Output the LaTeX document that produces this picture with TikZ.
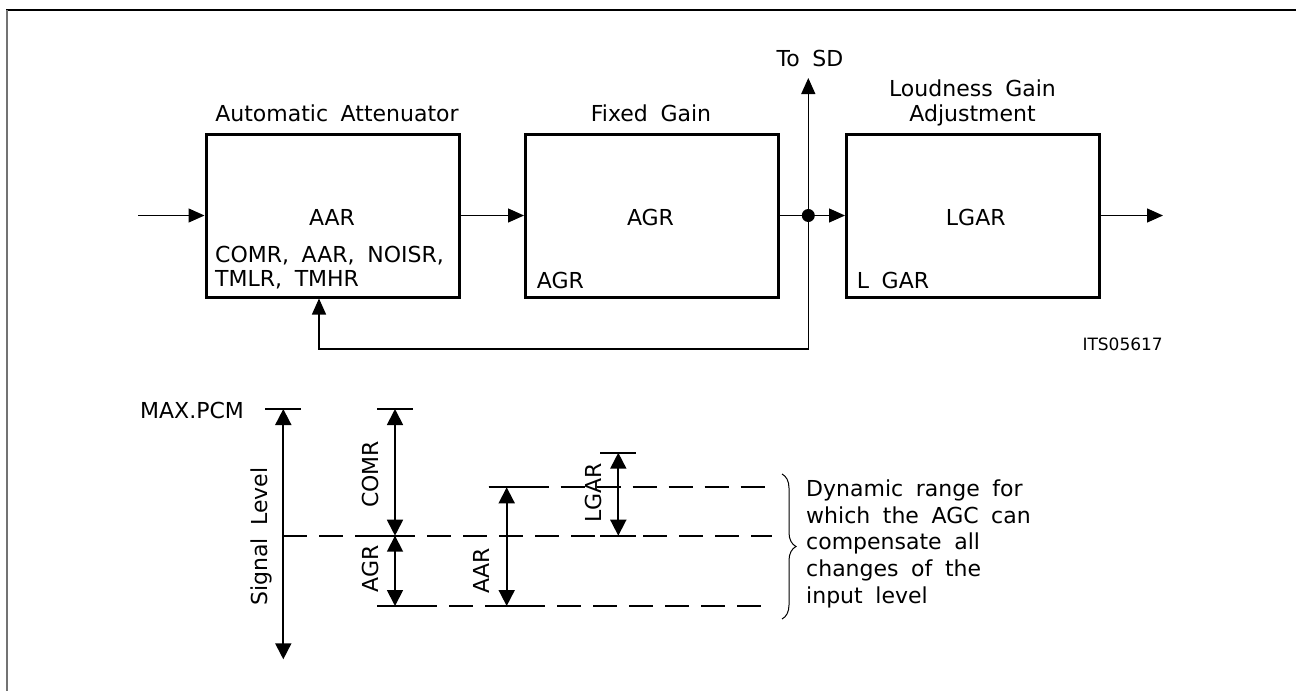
\documentclass[tikz,border=0pt]{standalone}
\usepackage{fontspec}
\setmainfont{DejaVu Sans}[WordSpace=1.8]
\usetikzlibrary{arrows.meta,decorations.pathreplacing}

\tikzset{
  blk/.style={draw, line width=3pt, minimum width=253pt, minimum height=163pt, inner sep=0pt},
  txt/.style={font=\fontsize{22}{26}\selectfont, inner sep=0pt, anchor=base},
  note/.style={font=\fontsize{22}{26}\selectfont, inner sep=0pt, anchor=base west},
  conn/.style={line width=1.3pt},
  tip/.style={-{Triangle[length=16pt,width=14pt]}},
  dim/.style={line width=1.8pt, {Triangle[length=16pt,width=16pt]}-{Triangle[length=16pt,width=16pt]}},
  dsh/.style={line width=1.8pt, dash pattern=on 24pt off 12pt},
  tick/.style={line width=1.8pt}
}

\begin{document}
\begin{tikzpicture}[x=1pt,y=-1pt]
  \useasboundingbox (0,0) rectangle (1296,691);
  % frame
  \draw[line width=1.5pt] (6,10) -- (1296,10);
  \draw[line width=2pt, black!55] (6.5,10) -- (6.5,691);

  % blocks
  \node[blk] (aa) at (332.5,215.5) {};
  \node[blk] (ag) at (652,215.5) {};
  \node[blk] (lg) at (973,215.5) {};

  \node[txt] (aat) at (337,121.7) {Automatic Attenuator};
  \node[txt] (agt) at (651,121.7) {Fixed Gain};
  \node[txt] (lgt1) at (972.5,96.7) {Loudness Gain};
  \node[txt] (lgt2) at (972.5,121.7) {Adjustment};

  \node[txt] (aam) at (332,225) {AAR};
  \node[txt,anchor=base west] (aar1) at (215,262.7) {COMR, AAR, NOISR,};
  \node[txt,anchor=base west] (aar2) at (215,286.7) {TMLR, TMHR};
  \node[txt] (agm) at (650.5,225) {AGR};
  \node[txt,anchor=base west] (agr1) at (536.7,288) {AGR};
  \node[txt] (lgm) at (975.8,225) {LGAR};
  \node[txt,anchor=base west] (lgr1) at (856.7,288) {L GAR};

  % signal path
  \coordinate (in) at (138,215.5);
  \coordinate (jn) at (808.3,215.5);
  \coordinate (sd) at (808.3,78);
  \coordinate (fb) at (319,349);
  \coordinate (out) at (1163,215.5);
  \draw[conn,tip] (in) -- (aa);
  \draw[conn,tip] (aa) -- (ag);
  \draw[conn] (ag) -- (jn);
  \draw[conn,tip] (jn) -- (lg);
  \draw[conn,tip] (jn) -- (sd);
  \draw[conn,tip] (jn) |- (fb) -- (fb |- aa.south);
  \draw[conn,tip] (lg) -- (out);
  \fill (jn) circle (6.5);
  \node[txt] (tosd) at (810,66.7) {To SD};
  \node[txt,anchor=base east,font=\fontsize{17}{20}\selectfont] (its) at (1163,350) {ITS05617};

  % level diagram
  \node[txt,anchor=base west] (max) at (140,418.3) {MAX.PCM};
  \coordinate (s1) at (283.3,409);
  \coordinate (s2) at (283.3,659.3);
  \coordinate (c1) at (395,409);
  \coordinate (c2) at (395,535.7);
  \coordinate (c3) at (395,606);
  \coordinate (a1) at (506.7,487.3);
  \coordinate (a2) at (506.7,606);
  \coordinate (l1) at (618.3,452.7);
  \coordinate (l2) at (618.3,535.7);
  \coordinate (ed) at (771.7,0);

  \draw[dsh] (s1 |- c2) -- (c2 -| ed);
  \draw[dsh] ([xshift=-18pt]c3) -- (c3 -| ed);
  \draw[dsh] ([xshift=-18pt]a1) -- (a1 -| ed);
  \foreach \p in {s1,c1,c2,c3,a1,a2,l1,l2}
    \draw[tick] ([xshift=-18pt]\p) -- ([xshift=18pt]\p);

  \draw[dim] (s1) -- (s2);
  \draw[dim] (c1) -- (c2);
  \draw[dim] (c2) -- (c3);
  \draw[dim] (a1) -- (a2);
  \draw[dim] (l1) -- (l2);

  \node[txt,rotate=90,anchor=center] (sig) at (261,536.5) {Signal Level};
  \node[txt,rotate=90,anchor=center] (comr) at (370,474.5) {COMR};
  \node[txt,rotate=90,anchor=center] (agr) at (370,569) {AGR};
  \node[txt,rotate=90,anchor=center] (aar) at (481.7,570.7) {AAR};
  \node[txt,rotate=90,anchor=center] (lgar) at (593.3,492.8) {LGAR};

  % dynamic range note
  \coordinate (b1) at (782,474);
  \coordinate (b2) at (782,619);
  \draw[line width=1pt,decorate,decoration={brace,amplitude=14pt}] (b1) -- (b2);
  \foreach \t [count=\i] in {Dynamic range for, which the AGC can, compensate all, changes of the, input level}
    \node[note] (dr\i) at (806,470+26.65*\i) {\t};
\end{tikzpicture}
\end{document}
